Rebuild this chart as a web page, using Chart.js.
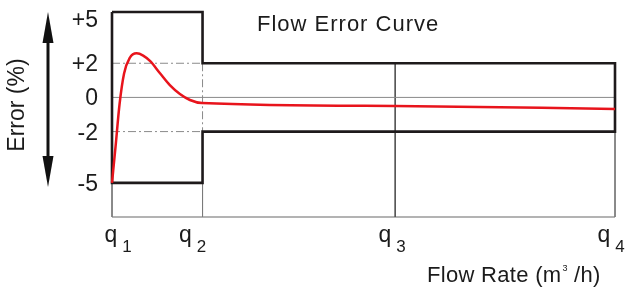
<!DOCTYPE html>
<html>
<head>
<meta charset="utf-8">
<script src="https://cdn.jsdelivr.net/npm/chart.js@4"></script>
<style>
  html, body { margin: 0; padding: 0; background: #fff; }
  canvas { display: block; }
</style>
</head>
<body>
<canvas id="flowChart" width="632" height="288"></canvas>
<script>
// flow axis: q1..q4 and where they sit on the flow scale
const flowSubscripts = ['1', '2', '3', '4'];
const flowPoints = [0, 18, 56.3, 100];

// error axis
const errorTicks = [5, 2, 0, -2, -5];
const errorTickLabels = ['+5', '+2', '0', '-2', '-5'];
const errorMin = -7;
const errorMax = 5;

// permitted error: ±5 % from q1 to q2, ±2 % from q2 to q4
const lowZoneLimit = 5;
const highZoneLimit = 2;

// measured error curve
const curveFlow = [0, 0.7, 1.5, 2.4, 3.5, 4.9, 6.2, 7.6, 9.5, 11.5, 13.5, 15.5, 17.9, 56.3, 100];
const curveError = [-5, -2.9, -0.4, 1.4, 2.3, 2.58, 2.45, 2.12, 1.43, 0.72, 0.2, -0.15, -0.33, -0.5, -0.68];

const q1 = flowPoints[0], q2 = flowPoints[1], q3 = flowPoints[2], q4 = flowPoints[3];

function seg(x1, y1, x2, y2) {
    return [{ x: x1, y: y1 }, { x: x2, y: y2 }];
}

const envelope = [
    { x: q1, y: lowZoneLimit }, { x: q2, y: lowZoneLimit },
    { x: q2, y: highZoneLimit }, { x: q4, y: highZoneLimit },
    { x: q4, y: -highZoneLimit }, { x: q2, y: -highZoneLimit },
    { x: q2, y: -lowZoneLimit }, { x: q1, y: -lowZoneLimit },
    { x: q1, y: lowZoneLimit }
];

const curve = curveFlow.map((f, i) => ({ x: f, y: curveError[i] }));

const base = { showLine: true, pointRadius: 0, fill: false, clip: false };
const dashDot = [8, 3, 2, 3];

const datasets = [
    // red error curve on top
    Object.assign({}, base, { data: curve, borderColor: '#e8141c', borderWidth: 2.5,
        cubicInterpolationMode: 'monotone', order: 0 }),
    // limits box
    Object.assign({}, base, { data: envelope, borderColor: '#1e1a1b', borderWidth: 2.6,
        borderJoinStyle: 'miter', order: 1 }),
    // zero line
    Object.assign({}, base, { data: seg(q1, 0, q4, 0), borderColor: '#8a8a8a', borderWidth: 1, order: 3 }),
    // dash-dot ±2 in the lower zone and the q2 divider
    Object.assign({}, base, { data: seg(q1, highZoneLimit, q2, highZoneLimit), borderColor: '#8a8a8a',
        borderWidth: 1, borderDash: dashDot, order: 3 }),
    Object.assign({}, base, { data: seg(q1, -highZoneLimit, q2, -highZoneLimit), borderColor: '#8a8a8a',
        borderWidth: 1, borderDash: dashDot, order: 3 }),
    Object.assign({}, base, { data: seg(q2, highZoneLimit, q2, -highZoneLimit), borderColor: '#8a8a8a',
        borderWidth: 1, borderDash: dashDot, order: 3 }),
    // vertical guides at q1..q4 down to the axis
    Object.assign({}, base, { data: seg(q1, -lowZoneLimit, q1, errorMin), borderColor: '#7a7a7a', borderWidth: 1, order: 3 }),
    Object.assign({}, base, { data: seg(q2, -lowZoneLimit, q2, errorMin), borderColor: '#7a7a7a', borderWidth: 1, order: 3 }),
    Object.assign({}, base, { data: seg(q3, highZoneLimit, q3, errorMin), borderColor: '#555', borderWidth: 1, order: 3 }),
    Object.assign({}, base, { data: seg(q4, highZoneLimit, q4, errorMin), borderColor: '#7a7a7a', borderWidth: 1, order: 3 }),
    // bottom axis line
    Object.assign({}, base, { data: seg(q1, errorMin, q4, errorMin), borderColor: '#9a9a9a', borderWidth: 1.5, order: 3 })
];

// labels, titles and the double arrow
const textPlugin = {
    id: 'flowText',
    afterDraw(chart) {
        const ctx = chart.ctx;
        const xs = chart.scales.x, ys = chart.scales.y;
        const area = chart.chartArea;
        const font = (s) => s + 'px "Liberation Sans", Arial, sans-serif';
        ctx.save();
        ctx.fillStyle = '#1b1b1b';

        // y tick labels
        ctx.font = font(23);
        ctx.textAlign = 'right';
        ctx.textBaseline = 'alphabetic';
        errorTicks.forEach((v, i) => {
            const cy = Math.max(ys.getPixelForValue(v), area.top + 7);
            ctx.fillText(errorTickLabels[i], 98, cy + 8);
        });

        // x tick labels q with subscript
        const shift = [6, -10, -3, -4];
        ctx.textAlign = 'left';
        flowPoints.forEach((v, i) => {
            const px = xs.getPixelForValue(v) + shift[i];
            ctx.font = font(23);
            const w1 = ctx.measureText('q').width;
            ctx.font = font(17);
            const w2 = ctx.measureText(flowSubscripts[i]).width;
            const start = px - (w1 + 5 + w2) / 2;
            ctx.font = font(23);
            ctx.fillText('q', start, 242);
            ctx.font = font(17);
            ctx.fillText(flowSubscripts[i], start + w1 + 5, 252);
        });

        // chart title
        ctx.font = font(22);
        ctx.letterSpacing = '1px';
        ctx.fillText('Flow Error Curve', 257, 31);

        // x axis title with superscript
        ctx.letterSpacing = '0.3px';
        let tx = 427;
        ctx.fillText('Flow Rate (m', tx, 282);
        tx += ctx.measureText('Flow Rate (m').width;
        ctx.font = font(9);
        ctx.fillText('3', tx + 1, 271);
        tx += ctx.measureText('3').width + 1;
        ctx.font = font(22);
        ctx.fillText(' /h)', tx, 282);
        ctx.letterSpacing = '0px';

        // y axis title
        ctx.save();
        ctx.font = font(23);
        ctx.translate(24, 105);
        ctx.rotate(-Math.PI / 2);
        ctx.textAlign = 'center';
        ctx.fillText('Error (%)', 0, 0);
        ctx.restore();

        // double arrow
        const ax = 48, top = 12, bot = 187, head = 31, hw = 5.5;
        ctx.strokeStyle = '#111';
        ctx.fillStyle = '#111';
        ctx.lineWidth = 3;
        ctx.beginPath();
        ctx.moveTo(ax, top + head - 2);
        ctx.lineTo(ax, bot - head + 2);
        ctx.stroke();
        ctx.beginPath();
        ctx.moveTo(ax, top);
        ctx.lineTo(ax + hw, top + head);
        ctx.lineTo(ax - hw, top + head);
        ctx.closePath();
        ctx.fill();
        ctx.beginPath();
        ctx.moveTo(ax, bot);
        ctx.lineTo(ax + hw, bot - head);
        ctx.lineTo(ax - hw, bot - head);
        ctx.closePath();
        ctx.fill();
        ctx.restore();
    }
};

new Chart(document.getElementById('flowChart').getContext('2d'), {
    type: 'scatter',
    data: { datasets: datasets },
    options: {
        responsive: false,
        animation: false,
        layout: { padding: { left: 112, right: 17, top: 12, bottom: 71 } },
        plugins: { legend: { display: false }, tooltip: { enabled: false } },
        scales: {
            x: { type: 'linear', display: false, min: q1, max: q4 },
            y: { type: 'linear', display: false, min: errorMin, max: errorMax }
        }
    },
    plugins: [textPlugin]
});
</script>
</body>
</html>
